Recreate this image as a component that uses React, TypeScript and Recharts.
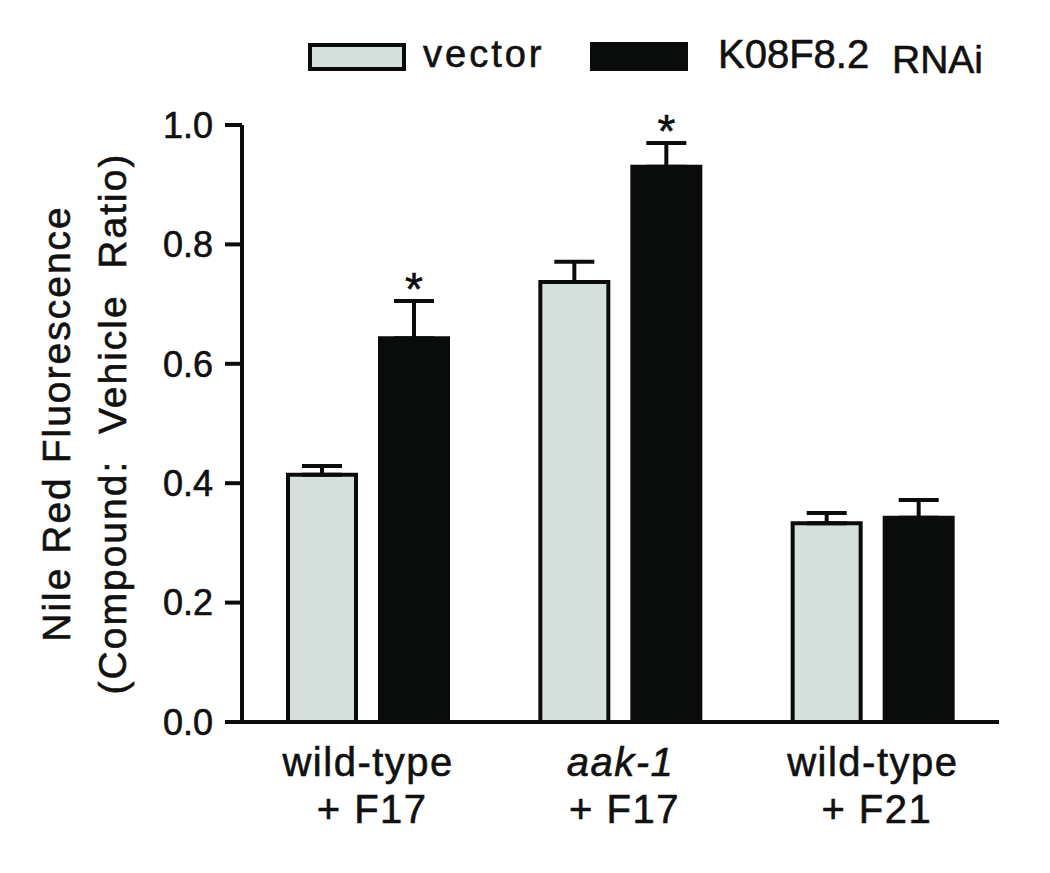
import React from 'react';
import { BarChart, Bar, XAxis, YAxis, ErrorBar, LabelList } from 'recharts';

// strains / treatments on the x axis
const strains = ['wild-type', 'aak-1', 'wild-type'];
const italicStrain = [false, true, false];
const compounds = ['+ F17', '+ F17', '+ F21'];

// Nile Red fluorescence, compound : vehicle ratio
const vectorMean = [0.414, 0.737, 0.333];
const vectorSem = [0.015, 0.034, 0.017];
const rnaiMean = [0.643, 0.93, 0.342];
const rnaiSem = [0.062, 0.04, 0.03];
const significant = [true, true, false];

const yTicks = [0, 0.2, 0.4, 0.6, 0.8, 1.0];

const FONT = '"Liberation Sans", Arial, sans-serif';
const INK = '#0a0c0c';
const TEXT = '#111';
const GREY = '#d5dfdc';
// the original text is a touch heavier than Liberation regular
const thick = { stroke: TEXT, strokeWidth: 0.6 };

const data = strains.map((s, i) => ({
  name: i,
  vector: vectorMean[i],
  vectorErr: [0, vectorSem[i]],
  rnai: rnaiMean[i],
  rnaiErr: [0, rnaiSem[i]],
  star: significant[i] ? '*' : '',
}));

function XTick(props: any) {
  const { x, y, payload } = props;
  const i = payload.value as number;
  return (
    <g>
      <text x={x} y={y + 46} textAnchor="middle" fontSize={40} fontFamily={FONT} fill={TEXT} {...thick}
        fontStyle={italicStrain[i] ? 'italic' : 'normal'} letterSpacing={1.5}>
        {strains[i]}
      </text>
      <text x={x + 4} y={y + 93} textAnchor="middle" fontSize={40} fontFamily={FONT} fill={TEXT} {...thick} letterSpacing={1.5}>
        {compounds[i]}
      </text>
    </g>
  );
}

function YTick(props: any) {
  const { x, y, payload } = props;
  return (
    <text x={x} y={y} dy="0.355em" textAnchor="end" fontSize={36} fontFamily={FONT} fill={TEXT} {...thick}>
      {Number(payload.value).toFixed(1)}
    </text>
  );
}

function YLabel(props: any) {
  const vb = props.viewBox || {};
  const cy = vb.y + vb.height / 2;
  return (
    <g>
      <text transform={`translate(70, ${cy}) rotate(-90)`} textAnchor="middle" fontSize={39} fontFamily={FONT} fill={TEXT} {...thick} letterSpacing={2}>
        Nile Red Fluorescence
      </text>
      <text transform={`translate(126, ${cy}) rotate(-90)`} textAnchor="middle" fontSize={39} fontFamily={FONT} fill={TEXT} {...thick} letterSpacing={2} xmlSpace="preserve">
        (Compound:  Vehicle  Ratio)
      </text>
    </g>
  );
}

function Star(props: any) {
  const { x, y, width, height, index, value } = props;
  if (!value) return null;
  const perUnit = Number(height) / rnaiMean[index];
  const capY = Number(y) - rnaiSem[index] * perUnit;
  return (
    <text x={Number(x) + Number(width) / 2} y={capY + 4} textAnchor="middle" fontSize={46} fontFamily={FONT} fill={INK} {...thick}>
      {value}
    </text>
  );
}

function LegendOverlay() {
  return (
    <svg width={1050} height={100} style={{ position: 'absolute', left: 0, top: 0 }}>
      <rect x={310} y={45} width={94} height={24} fill={GREY} stroke={INK} strokeWidth={4} />
      <text x={423} y={67} fontSize={38} fontFamily={FONT} fill={TEXT} {...thick} letterSpacing={3}>vector</text>
      <rect x={590} y={42} width={98} height={29} fill={INK} />
      <text x={718} y={68} fontSize={40} fontFamily={FONT} fill={TEXT} {...thick}>K08F8.2</text>
      <text x={892} y={73} fontSize={39} fontFamily={FONT} fill={TEXT} {...thick}>RNAi</text>
    </svg>
  );
}

export default function App() {
  return (
    <div style={{ position: 'absolute', left: 0, top: 0, width: 1050, height: 873, background: '#fff' }}>
      <BarChart
        width={1050}
        height={873}
        data={data}
        margin={{ top: 125, right: 51, bottom: 121, left: 0 }}
        barSize={68}
        barGap={24}
      >
        <XAxis
          dataKey="name"
          height={30}
          axisLine={{ stroke: INK, strokeWidth: 4 }}
          tickLine={false}
          tick={<XTick />}
          interval={0}
        />
        <YAxis
          width={242}
          domain={[0, 1]}
          ticks={yTicks}
          axisLine={{ stroke: INK, strokeWidth: 4 }}
          tickLine={{ stroke: INK, strokeWidth: 4 }}
          tickSize={17}
          tickMargin={12}
          tick={<YTick />}
          label={<YLabel />}
        />
        <Bar dataKey="vector" fill={GREY} stroke={INK} strokeWidth={4} isAnimationActive={false}>
          <ErrorBar dataKey="vectorErr" width={20} strokeWidth={4} stroke={INK} direction="y" />
        </Bar>
        <Bar dataKey="rnai" fill={INK} stroke={INK} strokeWidth={4} isAnimationActive={false}>
          <ErrorBar dataKey="rnaiErr" width={20} strokeWidth={4} stroke={INK} direction="y" />
          <LabelList dataKey="star" content={<Star />} />
        </Bar>
      </BarChart>
      <LegendOverlay />
    </div>
  );
}
